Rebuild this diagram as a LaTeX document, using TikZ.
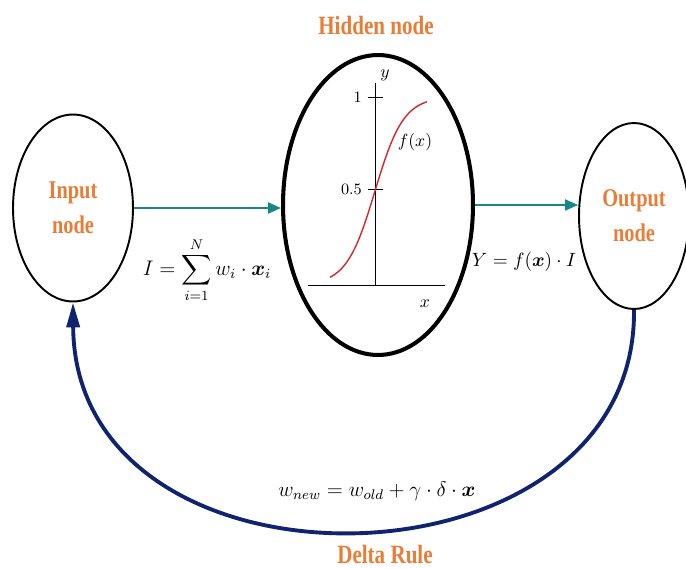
\documentclass[tikz,border=0pt]{standalone}
\usepackage{amsmath}
\usepackage{fontspec}
\newfontfamily\lblfont[FakeStretch=0.8]{Liberation Serif}
\usetikzlibrary{arrows.meta,positioning,shapes.geometric}
\definecolor{lblorange}{RGB}{232,125,55}
\definecolor{linkteal}{RGB}{25,135,135}
\definecolor{rulenavy}{RGB}{15,35,110}
\definecolor{curvered}{RGB}{210,40,45}

\begin{document}
\begin{tikzpicture}[
    x=0.02cm, y=-0.02cm,
    unit/.style={ellipse, draw, line width=1.1pt, inner sep=0pt, align=center, text=lblorange, font=\lblfont\bfseries\fontsize{14.5}{20}\selectfont},
    tag/.style={text=lblorange, font=\lblfont\bfseries\fontsize{15}{18}\selectfont},
    formula/.style={font=\fontsize{12}{14}\selectfont},
    axis/.style={line width=0.5pt},
    arrow/.style={-{Triangle[length=2.6mm, width=2.2mm]}, draw=linkteal, line width=1.1pt},
    feedback/.style={-{Triangle[length=5mm, width=2.6mm]}, draw=rulenavy, line width=2.2pt}
]
\useasboundingbox (0,0) rectangle (686,568);
\node[unit, minimum width=2.4cm, minimum height=3.74cm] (input) at (73,208) {Input\\node};
\node[unit, line width=2.3pt, minimum width=3.8cm, minimum height=6cm] (hidden) at (378,205) {};
\node[unit, minimum width=2.2cm, minimum height=3.72cm] (output) at (634,216) {Output\\node};
\node[tag] (hidtitle) at (376,25) {Hidden node};
\node[tag] (ruletitle) at (385,555) {Delta Rule};

% sigmoid inside the hidden node
\begin{scope}[shift={(375,285)}]
\coordinate (origin) at (0,0);
\draw[axis] (-67,0) -- (70,0);
\draw[axis] (origin) -- (0,-202);
\draw[axis] (-7,-188) -- (8,-188);
\draw[axis] (-7,-96) -- (8,-96);
\node[left, font=\small] at (-7,-188) {1};
\node[left, font=\small] at (-7,-96) {0.5};
\node at (10,-210) {$y$};
\node at (50,19) {$x$};
\node at (40,-143) {$f(x)$};
\draw[curvered, line width=0.8pt, domain=-45:52, samples=60] plot (\x, {-188/(1+exp(-0.07*\x))});
\end{scope}

\draw[arrow] (input.east) -- (input.east -| hidden.west);
\draw[arrow] (hidden.east) -- (hidden.east -| output.west);
\draw[feedback] (output.south) .. controls (637,600) and (75,610) .. (input.south);

\node[formula] (suminput) at (207,270) {$I = \displaystyle\sum_{i=1}^{N} w_i\cdot\boldsymbol{x}_i$};
\node[formula, font=\fontsize{10.5}{13}\selectfont] (outeq) at (524,262) {$Y = f(\boldsymbol{x})\cdot I$};
\node[formula] (update) at (377,491) {$w_{new} = w_{old} + \gamma\cdot\delta\cdot\boldsymbol{x}$};
\end{tikzpicture}
\end{document}
